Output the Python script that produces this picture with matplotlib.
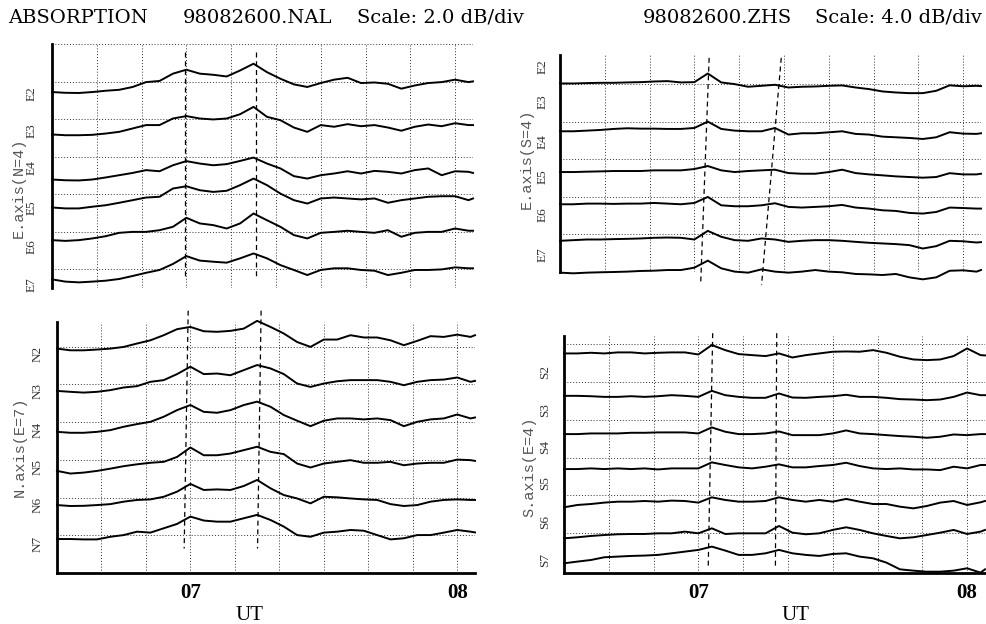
import numpy as np
import matplotlib
matplotlib.use("Agg")
import matplotlib.pyplot as plt

# sample times, minutes after 06 UT
minutes = np.r_[np.arange(30, 124, 3), 124]

# NAL, E axis (N=4) -- absorption in dB relative to the start of each beam
nal_e2 = [0, -0.04, -0.05, 0, 0.07, 0.12, 0.27, 0.53, 0.59, 0.98, 1.19, 0.98, 0.92, 0.83, 1.15, 1.51, 1.06,
          0.71, 0.41, 0.27, 0.48, 0.66, 0.76, 0.48, 0.51, 0.44, 0.18, 0.35, 0.48, 0.53, 0.66, 0.53, 0.57]
nal_e3 = [0, -0.04, -0.04, -0.02, 0.05, 0.14, 0.32, 0.5, 0.5, 0.85, 0.98, 0.85, 0.8, 0.85, 1.08, 1.47, 0.94,
          0.76, 0.37, 0.14, 0.5, 0.41, 0.55, 0.44, 0.5, 0.37, 0.2, 0.41, 0.53, 0.44, 0.6, 0.5, 0.5]
nal_e4 = [0, -0.04, -0.05, 0, 0.11, 0.23, 0.35, 0.5, 0.44, 0.76, 0.98, 0.85, 0.76, 0.82, 0.99, 1.17, 0.85,
          0.59, 0.18, 0.05, 0.23, 0.32, 0.44, 0.32, 0.46, 0.41, 0.32, 0.5, 0.59, 0.23, 0.44, 0.41, 0.35]
nal_e5 = [0, -0.05, -0.05, 0.04, 0.12, 0.25, 0.39, 0.53, 0.57, 1.01, 1.13, 0.92, 0.83, 0.89, 1.19, 1.54, 1.19,
          0.74, 0.39, 0.21, 0.48, 0.53, 0.48, 0.43, 0.48, 0.25, 0.39, 0.48, 0.57, 0.6, 0.6, 0.39, 0.48]
nal_e6 = [0, -0.04, 0, 0.09, 0.21, 0.39, 0.44, 0.44, 0.53, 0.71, 1.19, 0.89, 0.8, 0.62, 0.89, 1.42, 1.06,
          0.71, 0.27, 0.09, 0.39, 0.44, 0.5, 0.44, 0.39, 0.53, 0.18, 0.39, 0.44, 0.44, 0.62, 0.5, 0.5]
nal_e7 = [0, -0.12, -0.16, -0.12, -0.07, 0.02, 0.18, 0.35, 0.5, 0.82, 1.24, 1.0, 0.94, 0.89, 1.12, 1.38, 1.12,
          0.76, 0.5, 0.23, 0.5, 0.59, 0.59, 0.5, 0.46, 0.23, 0.35, 0.5, 0.5, 0.53, 0.64, 0.59, 0.59]

# NAL, N axis (E=7)
nal_n2 = [0, -0.09, -0.09, -0.05, 0, 0.09, 0.27, 0.44, 0.71, 1.03, 1.15, 0.92, 0.89, 0.94, 1.06, 1.47, 1.15,
          0.8, 0.35, 0.09, 0.48, 0.48, 0.71, 0.59, 0.59, 0.44, 0.18, 0.41, 0.66, 0.62, 0.74, 0.62, 0.71]
nal_n3 = [0, -0.05, -0.09, -0.05, 0.04, 0.18, 0.25, 0.48, 0.57, 0.89, 1.28, 0.89, 0.92, 0.83, 1.1, 1.37, 1.19,
          0.89, 0.39, 0.21, 0.39, 0.51, 0.57, 0.57, 0.57, 0.48, 0.3, 0.48, 0.57, 0.6, 0.71, 0.48, 0.53]
nal_n4 = [0, -0.05, -0.05, 0, 0.09, 0.27, 0.41, 0.53, 0.8, 1.15, 1.42, 1.06, 1.01, 1.15, 1.42, 1.6, 1.33,
          0.89, 0.59, 0.3, 0.59, 0.71, 0.71, 0.66, 0.71, 0.62, 0.3, 0.53, 0.66, 0.71, 0.92, 0.71, 0.76]
nal_n5 = [0, -0.14, -0.09, 0, 0.12, 0.25, 0.35, 0.43, 0.48, 0.74, 1.24, 0.83, 0.83, 0.92, 1.1, 1.28, 1.01,
          0.89, 0.39, 0.18, 0.39, 0.48, 0.57, 0.43, 0.43, 0.48, 0.3, 0.39, 0.43, 0.43, 0.6, 0.57, 0.53]
nal_n6 = [0, -0.05, -0.04, 0, 0.05, 0.18, 0.27, 0.3, 0.44, 0.71, 1.12, 0.8, 0.83, 0.8, 1.01, 1.33, 0.89,
          0.53, 0.35, 0.09, 0.44, 0.41, 0.35, 0.3, 0.27, 0.05, -0.05, 0, 0.18, 0.27, 0.3, 0.27, 0.27]
nal_n7 = [0, 0, -0.02, -0.02, 0.12, 0.21, 0.39, 0.34, 0.57, 0.8, 1.19, 0.98, 0.92, 0.92, 1.1, 1.28, 1.01,
          0.66, 0.21, 0.12, 0.34, 0.39, 0.48, 0.44, 0.21, -0.02, 0.04, 0.21, 0.21, 0.34, 0.48, 0.39, 0.35]

# ZHS, E axis (S=4)
zhs_e2 = [0, 0, 0.04, 0.07, 0.07, 0.11, 0.14, 0.21, 0.25, 0.11, 0.14, 1.06, 0.11, -0.07, -0.35, -0.25, -0.14,
          -0.43, -0.35, -0.32, -0.25, -0.21, -0.43, -0.6, -0.85, -0.96, -1.03, -1.03, -0.78, -0.2, -0.3, -0.25, -0.28]
zhs_e3 = [0, 0, 0.07, 0.14, 0.25, 0.32, 0.28, 0.28, 0.25, 0.25, 0.35, 1.03, 0.25, 0.07, 0, 0, 0.35,
          -0.35, -0.21, -0.21, -0.11, 0, -0.28, -0.35, -0.57, -0.64, -0.71, -0.82, -0.64, -0.1, -0.25, -0.28, -0.21]
zhs_e4 = [0, 0, 0.04, 0.07, 0.11, 0.11, 0.11, 0.18, 0.18, 0.18, 0.32, 0.64, 0.18, 0, 0.11, 0.18, 0.25,
          -0.11, -0.18, -0.18, 0, 0.25, -0.11, -0.25, -0.35, -0.46, -0.53, -0.6, -0.53, -0.12, -0.25, -0.25, -0.18]
zhs_e5 = [0, 0, 0.07, 0.07, 0.04, 0.07, 0.07, 0.14, 0.07, 0, 0.14, 0.78, -0.11, -0.21, -0.21, -0.11, 0.11,
          -0.28, -0.35, -0.28, -0.21, -0.07, -0.35, -0.46, -0.64, -0.71, -0.92, -0.99, -0.82, -0.35, -0.4, -0.46, -0.46]
zhs_e6 = [0, 0.07, 0.14, 0.14, 0.18, 0.21, 0.25, 0.32, 0.35, 0.32, 0.14, 1.06, 0.43, 0.07, 0, 0.25, 0.14,
          -0.11, 0, 0.07, 0.07, 0, -0.11, -0.21, -0.28, -0.35, -0.46, -0.82, -0.57, 0, -0.05, -0.18, -0.14]
zhs_e7 = [0, -0.07, 0, 0.04, 0.07, 0.11, 0.18, 0.21, 0.28, 0.28, 0.53, 1.28, 0.46, 0.11, 0, 0.35, 0.11,
          0, 0.11, 0.28, 0.11, 0.04, -0.14, -0.18, -0.25, -0.14, -0.5, -0.71, -0.5, 0.2, 0.25, 0.11, 0.28]

# ZHS, S axis (E=4); the top beam has no label on the chart
zhs_s1 = [0, 0, 0.07, 0, 0.11, 0.11, 0, 0.07, 0.11, 0.11, -0.11, 0.89, 0.35, -0.07, -0.18, -0.28, 0,
          -0.43, -0.18, 0, 0.18, 0.21, 0.18, 0.35, 0.07, -0.35, -0.64, -0.71, -0.64, -0.28, 0.53, -0.18, -0.21]
zhs_s2 = [0, 0, -0.04, -0.11, -0.11, -0.04, -0.11, -0.04, 0.07, 0, -0.11, 0.53, 0.07, -0.11, -0.21, -0.21, 0.25,
          -0.18, -0.21, -0.11, -0.04, 0.11, -0.11, -0.11, -0.21, -0.35, -0.39, -0.46, -0.39, -0.11, 0.35, 0.07, 0.07]
zhs_s3 = [0, 0, 0.07, 0.07, 0.07, 0.14, 0.14, 0.18, 0.18, 0.18, 0.07, 0.71, 0.25, 0, 0, 0.07, 0.28,
          -0.11, -0.11, -0.11, 0.07, 0.39, 0.07, 0, -0.11, -0.21, -0.28, -0.39, -0.28, -0.04, -0.11, 0, 0]
zhs_s4 = [0, 0, 0.07, 0, 0.07, 0, 0.07, -0.04, 0.07, 0.07, 0.07, 0.71, 0.43, 0.18, 0.07, 0.25, 0.5,
          0.18, 0.18, 0.32, 0.43, 0.67, 0.32, 0.07, 0, 0.07, -0.04, -0.04, -0.11, 0.25, 0.07, 0.43, 0.43]
zhs_s5 = [0, 0.25, 0.35, 0.5, 0.6, 0.6, 0.67, 0.6, 0.71, 0.67, 0.5, 1.06, 0.78, 0.6, 0.6, 0.67, 1.06,
          0.78, 0.6, 0.78, 0.6, 0.89, 0.6, 0.35, 0.35, 0.07, -0.11, 0.14, 0.5, 0.67, 0.25, 0.53, 0.67]
zhs_s6 = [0, 0.11, 0.25, 0.35, 0.43, 0.46, 0.46, 0.53, 0.53, 0.71, 0.53, 1.06, 0.46, 0.53, 0.53, 0.53, 1.31,
          0.6, 0.43, 0.53, 0.89, 1.17, 0.89, 0.53, 0.25, 0, 0.11, 0.35, 0.6, 0.89, 0.46, 0.71, 0.89]
zhs_s7 = [0, 0.18, 0.35, 0.64, 0.71, 0.78, 0.82, 0.89, 1.06, 1.24, 1.42, 1.77, 1.35, 0.89, 0.89, 1.06, 1.42,
          1.06, 0.89, 0.78, 0.99, 1.06, 0.71, 0.53, 0.07, -0.64, -0.78, -0.89, -0.89, -0.78, -0.53, -0.99, -0.64]

beams_e = ["E2", "E3", "E4", "E5", "E6", "E7"]
beams_n = ["N2", "N3", "N4", "N5", "N6", "N7"]
beams_s = ["S2", "S3", "S4", "S5", "S6", "S7"]

# event times (minutes after 06 UT) of the dashed lines, (top, bottom)
nal_e_events = [(59.7, 59.7), (75.6, 75.6)]
nal_n_events = [(59.5, 58.6), (75.9, 75.1)]
zhs_e_events = [(63.3, 61.4), (79.4, 75.0)]
zhs_s_events = [(63.2, 62.2), (77.5, 77.2)]

W, H = 986, 624


def fx(px):
    return px / W


def fy(py):
    return 1 - py / H


fig = plt.figure(figsize=(W / 100, H / 100), dpi=100)
fig.patch.set_facecolor("white")

serif = "DejaVu Serif"


def draw_panel(rect, traces, offsets, ylim, ygrid, events, ev_span, bottom_axis):
    ax = fig.add_axes(rect)
    for vals, y0 in zip(traces, offsets):
        ax.plot(minutes, y0 + np.array(vals), color="black", lw=1.4, clip_on=False, zorder=3)
    for (t_top, t_bot) in events:
        ax.plot([t_top, t_bot], ev_span, color="black", lw=0.9, ls=(0, (4, 3)), clip_on=False, zorder=2)
    ax.set_xlim(30, 124)
    ax.set_ylim(*ylim)
    ax.set_xticks(range(40, 121, 10))
    ax.set_yticks(ygrid)
    ax.grid(True, color="#333333", ls=(0, (1, 2)), lw=0.7)
    ax.tick_params(length=0, labelleft=False)
    for s in ["top", "right"]:
        ax.spines[s].set_visible(False)
    ax.spines["left"].set_linewidth(2)
    if bottom_axis:
        ax.spines["bottom"].set_linewidth(2)
        ax.set_xticklabels(["", "", "07", "", "", "", "", "", "08"],
                           fontfamily="Liberation Serif", fontweight="bold", fontsize=15)
        ax.tick_params(axis="x", pad=7)
    else:
        ax.spines["bottom"].set_visible(False)
        ax.tick_params(labelbottom=False)
    return ax


# top left: NAL E axis, 2 dB/div
draw_panel([fx(52), fy(288), fx(421), 244 / H],
           [nal_e2, nal_e3, nal_e4, nal_e5, nal_e6, nal_e7],
           [10.44, 8.18, 5.78, 4.29, 2.55, 0.46],
           (0, 13), range(1, 14, 2), nal_e_events, (12.6, 0.6), False)

# bottom left: NAL N axis, 2 dB/div
draw_panel([fx(57), fy(573), fx(418), 251 / H],
           [nal_n2, nal_n3, nal_n4, nal_n5, nal_n6, nal_n7],
           [11.89, 9.65, 7.48, 5.41, 3.6, 1.8],
           (0, 13.3), range(2, 13, 2), nal_n_events, (13.9, 1.3), True)

# top right: ZHS E axis, 4 dB/div
draw_panel([fx(560), fy(272), fx(421), 217 / H],
           [zhs_e2, zhs_e3, zhs_e4, zhs_e5, zhs_e6, zhs_e7],
           [20.07, 14.98, 10.64, 7.21, 3.32, -0.07],
           (0, 23.1), range(0, 21, 4), zhs_e_events, (22.8, -1.4), False)

# bottom right: ZHS S axis, 4 dB/div
draw_panel([fx(564), fy(573), fx(421), 237 / H],
           [zhs_s1, zhs_s2, zhs_s3, zhs_s4, zhs_s5, zhs_s6, zhs_s7],
           [23.05, 18.55, 14.49, 10.78, 6.72, 3.43, 0.78],
           (-0.25, 24.9), range(4, 25, 4), zhs_s_events, (25.2, 0.3), True)

# beam labels
lab_kw = dict(rotation=90, ha="center", va="center", fontsize=9.5,
              fontfamily="Liberation Serif", color="#333333")
for name, y in zip(beams_e, [94, 131, 168, 208, 247, 285]):
    fig.text(fx(32), fy(y), name, **lab_kw)
for name, y in zip(beams_n, [354, 391, 430, 467, 505, 544]):
    fig.text(fx(38), fy(y), name, **lab_kw)
for name, y in zip(beams_e, [67, 102, 142, 177, 215, 255]):
    fig.text(fx(543), fy(y), name, **lab_kw)
for name, y in zip(beams_s, [372, 410, 447, 483, 522, 560]):
    fig.text(fx(545), fy(y), name, **lab_kw)

ax_kw = dict(rotation=90, ha="center", va="center", fontsize=11,
             fontfamily="Liberation Mono", color="#555555")
fig.text(fx(19), fy(188), "E.axis(N=4)", **ax_kw)
fig.text(fx(20), fy(447), "N.axis(E=7)", **ax_kw)
fig.text(fx(527), fy(159), "E.axis(S=4)", **ax_kw)
fig.text(fx(529), fy(467), "S.axis(E=4)", **ax_kw)

# header
for txt, x in [("ABSORPTION", 8), ("98082600.NAL", 183), ("Scale: 2.0 dB/div", 357),
               ("98082600.ZHS", 643), ("Scale: 4.0 dB/div", 815)]:
    fig.text(fx(x), fy(18), txt, ha="left", va="center", fontsize=14, fontfamily=serif)

fig.text(fx(250), fy(616), "UT", ha="center", va="center", fontsize=15, fontfamily="Liberation Serif")
fig.text(fx(795), fy(616), "UT", ha="center", va="center", fontsize=15, fontfamily="Liberation Serif")

fig.savefig("out.png", dpi=100, facecolor="white")
